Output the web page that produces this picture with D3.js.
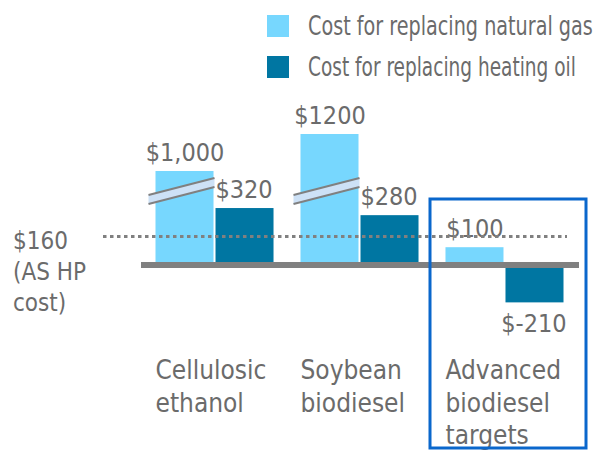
<!DOCTYPE html>
<html>
<head>
<meta charset="utf-8">
<script src="https://cdn.jsdelivr.net/npm/d3@7"></script>
<style>
  body { margin: 0; background: #fff; }
  text { font-family: "Liberation Sans Narrow", "DejaVu Sans Condensed", "Roboto", sans-serif; fill: #6b6b6b; }
</style>
</head>
<body>
<script>
const categories = [['Cellulosic', 'ethanol'], ['Soybean', 'biodiesel'], ['Advanced', 'biodiesel', 'targets']];
const series = ['Cost for replacing natural gas', 'Cost for replacing heating oil'];
const gasCost = [1000, 1200, 100];
const oilCost = [320, 280, -210];
const gasLabels = ['$1,000', '$1200', '$100'];
const oilLabels = ['$320', '$280', '$-210'];
const brokenBars = [true, true, false];
const ashpCost = 160;
const ashpLabel = ['$160', '(AS HP', 'cost)'];

const width = 600;
const height = 450;
const colors = ['#77d7fe', '#0076a2'];
const grey = '#808080';

const svg = d3.select('body').append('svg')
  .attr('width', width)
  .attr('height', height);

const keys = categories.map(c => c.join(' '));

const x = d3.scaleBand().domain(keys).range([141, 578])
  .paddingInner(0.186).paddingOuter(0.1);
const xs = d3.scaleBand().domain(series).range([0, x.bandwidth()]);

// broken axis: linear up to 400, compressed above
const y0 = 265, k = 0.178;
const y = d3.scaleLinear()
  .domain([-300, 0, 400, 1000, 1200])
  .range([y0 + 300 * k, y0, y0 - 400 * k, 171, 134]);

const rows = keys.map((key, i) => ({key, i, values: [gasCost[i], oilCost[i]], labels: [gasLabels[i], oilLabels[i]]}));

const group = svg.selectAll('.group').data(rows).enter().append('g')
  .attr('class', 'group')
  .attr('transform', d => 'translate(' + x(d.key) + ',0)');

const bars = group.selectAll('.bar')
  .data(d => d.values.map((v, j) => ({v, j, label: d.labels[j], i: d.i})))
  .enter();

bars.append('rect')
  .attr('x', d => xs(series[d.j]) + (d.j === 1 ? 1 : 0))
  .attr('width', xs.bandwidth() - 1)
  .attr('y', d => Math.min(y(d.v), y(0)))
  .attr('height', d => Math.abs(y(d.v) - y(0)))
  .attr('fill', d => colors[d.j]);

bars.append('text')
  .attr('x', d => xs(series[d.j]) + xs.bandwidth() / 2)
  .attr('y', d => d.v >= 0 ? y(d.v) - 10 : y(d.v) + 30)
  .attr('text-anchor', 'middle')
  .style('font-size', '25px')
  .text(d => d.label);

// break marks on truncated bars
group.filter(d => brokenBars[d.i]).append('path')
  .attr('d', () => {
    const l = -7, r = xs.bandwidth();
    const b = y0 - 61;
    return 'M' + l + ',' + b + 'L' + r + ',' + (b - 17) + 'L' + r + ',' + (b - 26) + 'L' + l + ',' + (b - 9) + 'Z';
  })
  .attr('fill', '#cde1f6');
group.filter(d => brokenBars[d.i]).each(function() {
  const g = d3.select(this);
  const l = -7, r = xs.bandwidth(), b = y0 - 61;
  [0, -9].forEach(o => {
    g.append('line')
      .attr('x1', l).attr('y1', b + o)
      .attr('x2', r).attr('y2', b - 17 + o)
      .attr('stroke', grey).attr('stroke-width', 2);
  });
});

// zero line
svg.append('line')
  .attr('x1', 141).attr('x2', 579)
  .attr('y1', y(0)).attr('y2', y(0))
  .attr('stroke', grey).attr('stroke-width', 6);

// ASHP reference line
svg.append('line')
  .attr('x1', 103).attr('x2', 567)
  .attr('y1', y(ashpCost)).attr('y2', y(ashpCost))
  .attr('stroke', grey).attr('stroke-width', 3)
  .attr('stroke-dasharray', '3.5,3.5');

svg.append('text')
  .attr('x', 13).attr('y', y(ashpCost) + 12)
  .style('font-size', '24px')
  .selectAll('tspan').data(ashpLabel).enter().append('tspan')
  .attr('x', 13).attr('dy', (d, i) => i ? 31 : 0)
  .text(d => d);

// category labels
group.append('text')
  .attr('x', 0).attr('y', 379)
  .style('font-size', '26px')
  .selectAll('tspan').data(d => categories[d.i]).enter().append('tspan')
  .attr('x', 0).attr('dy', (d, i) => i ? 32.5 : 0)
  .text(d => d);

// highlight box around targets
svg.append('rect')
  .attr('x', 430).attr('y', 199)
  .attr('width', 156).attr('height', 249)
  .attr('fill', 'none')
  .attr('stroke', '#0a67cc').attr('stroke-width', 3);

// legend
const legend = svg.selectAll('.legend').data(series).enter().append('g')
  .attr('class', 'legend')
  .attr('transform', (d, i) => 'translate(267,' + (15 + i * 41) + ')');
legend.append('rect')
  .attr('width', 22).attr('height', 22)
  .attr('fill', (d, i) => colors[i]);
legend.append('text')
  .style('font-size', '27px')
  .text(d => d)
  .attr('transform', function(d, i) {
    const target = i ? 268 : 285;
    const s = target / this.getComputedTextLength();
    return 'translate(41,20) scale(' + s + ',1)';
  });
</script>
</body>
</html>
